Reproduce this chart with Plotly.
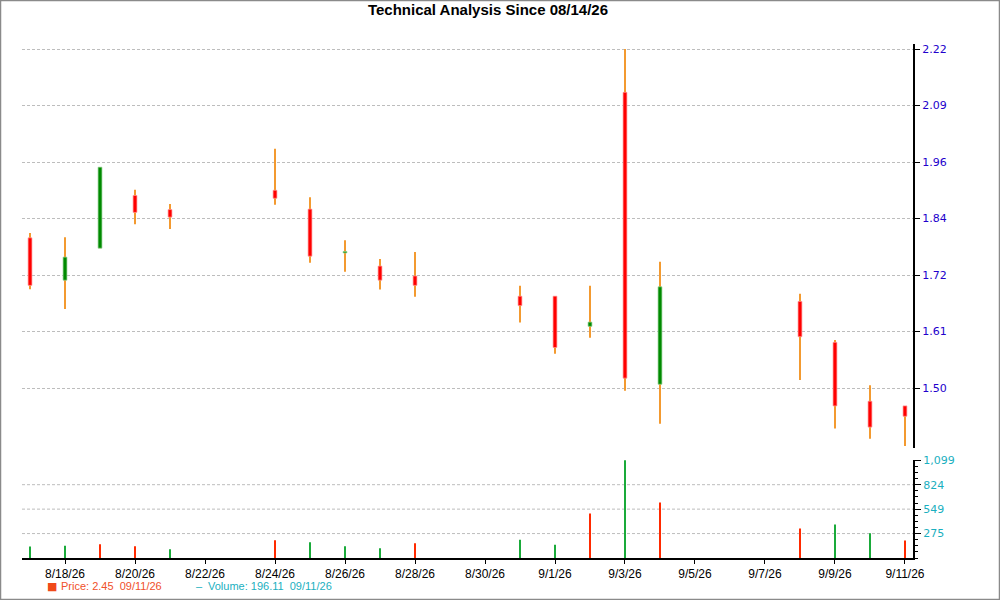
import plotly.graph_objects as go

# Daily bars (open, high, low, close)
dates = ["2026-08-17", "2026-08-18", "2026-08-19", "2026-08-20", "2026-08-21",
         "2026-08-24", "2026-08-25", "2026-08-26", "2026-08-27", "2026-08-28",
         "2026-08-31", "2026-09-01", "2026-09-02", "2026-09-03", "2026-09-04",
         "2026-09-08", "2026-09-09", "2026-09-10", "2026-09-11"]
opens = [1.819, 1.729, 1.797, 1.909, 1.879, 1.920, 1.880, 1.787, 1.759, 1.738,
         1.695, 1.695, 1.631, 2.128, 1.508, 1.684, 1.597, 1.472, 1.462]
highs = [1.829, 1.820, 1.969, 1.921, 1.891, 2.008, 1.905, 1.814, 1.774, 1.789,
         1.717, 1.695, 1.717, 2.220, 1.768, 1.700, 1.602, 1.506, 1.462]
lows = [1.710, 1.668, 1.797, 1.848, 1.838, 1.889, 1.766, 1.747, 1.709, 1.694,
        1.639, 1.573, 1.607, 1.494, 1.424, 1.517, 1.414, 1.392, 1.377]
closes = [1.718, 1.778, 1.969, 1.873, 1.863, 1.903, 1.780, 1.790, 1.729, 1.718,
          1.675, 1.586, 1.640, 1.521, 1.715, 1.609, 1.462, 1.417, 1.440]
volumes = [128, 139, 154, 131, 98, 199, 176, 131, 109, 165,
           206, 150, 501, 1099, 625, 333, 378, 277, 196.11]
vol_up = [True, True, False, False, True, False, True, True, True, False,
          True, True, False, True, False, False, True, True, False]

price_ticks = [1.50, 1.62, 1.74, 1.86, 1.98, 2.10, 2.22]
price_labels = ["1.50", "1.61", "1.72", "1.84", "1.96", "2.09", "2.22"]
vol_ticks = [274.75, 549.5, 824.25, 1099]
vol_labels = ["275", "549", "824", "1,099"]
x_ticks = ["2026-08-18", "2026-08-20", "2026-08-22", "2026-08-24", "2026-08-26",
           "2026-08-28", "2026-08-30", "2026-09-01", "2026-09-03", "2026-09-05",
           "2026-09-07", "2026-09-09", "2026-09-11"]
x_labels = ["8/18/26", "8/20/26", "8/22/26", "8/24/26", "8/26/26", "8/28/26",
            "8/30/26", "9/1/26", "9/3/26", "9/5/26", "9/7/26", "9/9/26", "9/11/26"]

W, H = 1000, 600
ML, MR, MT, MB = 22, 87, 44, 42
pw, ph = W - ML - MR, H - MT - MB


def px_x(p):
    return (p - ML) / pw


def px_y(p):
    return 1 - (p - MT) / ph


DAY = 86400000
up = [c >= o for o, c in zip(opens, closes)]

fig = go.Figure()

# wicks
fig.add_trace(go.Bar(
    x=dates, y=[h - l for h, l in zip(highs, lows)], base=lows,
    width=0.035 * DAY, marker=dict(color="#F39A30", line=dict(width=0)),
    xaxis="x", yaxis="y", hoverinfo="skip", showlegend=False))

# bodies
fig.add_trace(go.Bar(
    x=dates, y=[abs(c - o) for o, c in zip(opens, closes)],
    base=[min(o, c) for o, c in zip(opens, closes)],
    width=0.11 * DAY,
    marker=dict(color=["#008A00" if u else "#FF0000" for u in up],
                line=dict(color=["#8FD08F" if u else "#FF9A9A" for u in up], width=0.7)),
    xaxis="x", yaxis="y", hoverinfo="skip", showlegend=False))

# volume
fig.add_trace(go.Bar(
    x=dates, y=volumes, width=0.03 * DAY,
    marker=dict(color=["#1AAA3A" if u else "#FF2A00" for u in vol_up], line=dict(width=0)),
    xaxis="x2", yaxis="y2", hoverinfo="skip", showlegend=False))

xrange = ["2026-08-16 18:30", "2026-09-11 05:30"]
grid = "#BDBDBD"

fig.update_layout(
    width=W, height=H,
    margin=dict(l=ML, r=MR, t=MT, b=MB),
    paper_bgcolor="white", plot_bgcolor="white",
    barmode="overlay", showlegend=False,
    title=dict(text="<b>Technical Analysis Since 08/14/26</b>", x=0.488, xref="container",
               y=1 - 10 / H, yref="container", yanchor="middle",
               font=dict(family="Liberation Sans, Arial", size=15, color="black")),
    xaxis=dict(type="date", range=xrange, anchor="y", matches="x2",
               showticklabels=False, showgrid=False, zeroline=False, showline=False),
    xaxis2=dict(type="date", range=xrange, anchor="y2",
                tickmode="array", tickvals=x_ticks, ticktext=x_labels,
                ticks="outside", ticklen=4, tickcolor="black",
                showline=True, linewidth=2, linecolor="black",
                showgrid=False, zeroline=False,
                tickfont=dict(family="Liberation Sans, Arial", size=12, color="black")),
    yaxis=dict(domain=[px_y(448), 1], range=[1.3726, 2.2307], side="right",
               tickmode="array", tickvals=price_ticks, ticktext=price_labels,
               ticks="outside", ticklen=5, tickcolor="black",
               showline=True, linewidth=2, linecolor="black",
               showgrid=True, gridcolor=grid, griddash="3px,2px", gridwidth=1,
               zeroline=False,
               tickfont=dict(family="DejaVu Sans", size=11, color="#2200CC")),
    yaxis2=dict(domain=[0, px_y(460)], range=[0, 1102], side="right", anchor="x2",
                tickmode="array", tickvals=vol_ticks, ticktext=vol_labels,
                ticks="outside", ticklen=6, tickcolor="black",
                minor=dict(tickmode="linear", tick0=0, dtick=68.6875,
                           ticks="outside", ticklen=3, tickcolor="black", showgrid=False),
                showline=True, linewidth=2, linecolor="black",
                showgrid=False, zeroline=False,
                tickfont=dict(family="DejaVu Sans", size=11, color="#1AAFC0")),
)

# volume grid lines (no line at the top tick)
for v in vol_ticks[:-1]:
    fig.add_shape(type="line", xref="paper", yref="y2", x0=0, x1=1, y0=v, y1=v,
                  line=dict(color=grid, width=1, dash="3px,2px"), layer="below")

# outer frame
fig.add_shape(type="rect", xref="paper", yref="paper",
              x0=px_x(0.5), x1=px_x(W - 0.5), y0=px_y(H - 0.5), y1=px_y(0.5),
              line=dict(color="#8A8A8A", width=1.5))

# legend line
fig.add_annotation(xref="paper", yref="paper", x=px_x(45), y=px_y(586),
                   xanchor="left", yanchor="middle", showarrow=False,
                   text="■", font=dict(family="DejaVu Sans", size=11, color="#F04A1A"))
fig.add_annotation(xref="paper", yref="paper", x=px_x(59), y=px_y(586),
                   xanchor="left", yanchor="middle", showarrow=False,
                   text="Price: 2.45  09/11/26",
                   font=dict(family="Liberation Sans, Arial", size=11, color="#F0502A"))
fig.add_annotation(xref="paper", yref="paper", x=px_x(194), y=px_y(586),
                   xanchor="left", yanchor="middle", showarrow=False,
                   text="–", font=dict(family="Liberation Sans, Arial", size=11, color="#1AAFC0"))
fig.add_annotation(xref="paper", yref="paper", x=px_x(206), y=px_y(586),
                   xanchor="left", yanchor="middle", showarrow=False,
                   text="Volume: 196.11  09/11/26",
                   font=dict(family="Liberation Sans, Arial", size=11, color="#1AAFC0"))

# the page is photographed at 1000x600: drop the default body margin
fig.write_html("out.html", config={"displayModeBar": False},
               post_script="document.body.style.margin='0px';")
